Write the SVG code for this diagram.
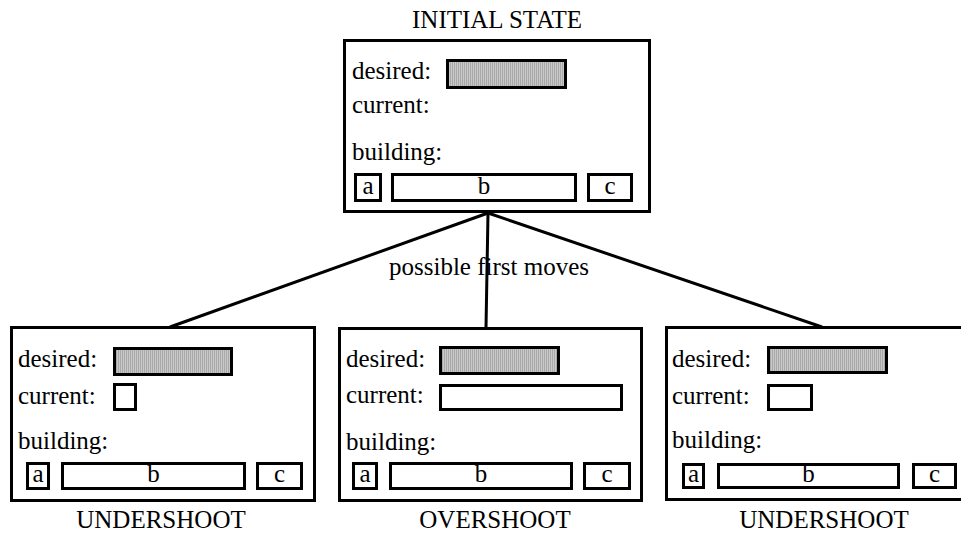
<svg xmlns="http://www.w3.org/2000/svg" width="961" height="538" viewBox="0 0 961 538">
<style>
.box{fill:#fff;stroke:#000;stroke-width:3}
.cell{fill:#fff;stroke:#000;stroke-width:3}
.want{fill:url(#hatch);stroke:#000;stroke-width:3}
.conn{stroke:#000;stroke-width:3;fill:none}
text{font-family:"Liberation Serif","Times New Roman",serif;font-size:25px;fill:#000}
.mid{text-anchor:middle}
</style>
<defs>
<pattern id="hatch" patternUnits="userSpaceOnUse" width="2" height="4">
<rect width="2" height="4" fill="#c9c9c9"/>
<rect width="1" height="4" fill="#a9a9a9"/>
</pattern>
</defs>
<g id="connectors">
<line class="conn" x1="488" y1="213" x2="170" y2="327"/>
<line class="conn" x1="488" y1="213" x2="822" y2="327"/>
<line class="conn" x1="488" y1="213" x2="486" y2="328"/>
<text class="mid" x="489" y="275">possible first moves</text>
</g>
<g id="initial">
<text class="mid" x="497" y="28">INITIAL STATE</text>
<rect class="box" x="344.5" y="40.5" width="305" height="171"/>
<text x="352" y="79">desired:</text>
<rect class="want" x="447.5" y="60.5" width="118" height="27"/>
<text x="352" y="113">current:</text>
<text x="352" y="160">building:</text>
<rect class="cell" x="355.5" y="174.5" width="25" height="26"/>
<rect class="cell" x="392.5" y="174.5" width="183" height="26"/>
<rect class="cell" x="588.5" y="174.5" width="43" height="26"/>
<text class="mid" x="368" y="194">a</text>
<text class="mid" x="484" y="194">b</text>
<text class="mid" x="610" y="194">c</text>
</g>
<g id="under1">
<rect class="box" x="11.5" y="327.5" width="303" height="173"/>
<text x="18" y="367">desired:</text>
<rect class="want" x="114.5" y="348.5" width="117" height="26"/>
<text x="18" y="404">current:</text>
<rect class="cell" x="114.5" y="384.5" width="21" height="25"/>
<text x="18" y="449">building:</text>
<rect class="cell" x="27.5" y="463.5" width="21" height="25"/>
<rect class="cell" x="62.5" y="463.5" width="182" height="25"/>
<rect class="cell" x="257.5" y="463.5" width="44" height="25"/>
<text class="mid" x="38" y="482">a</text>
<text class="mid" x="153.5" y="482">b</text>
<text class="mid" x="279.5" y="482">c</text>
<text class="mid" x="161" y="528">UNDERSHOOT</text>
</g>
<g id="over">
<rect class="box" x="339.5" y="328.5" width="302" height="172"/>
<text x="346" y="367">desired:</text>
<rect class="want" x="440.5" y="347.5" width="118" height="26"/>
<text x="346" y="403">current:</text>
<rect class="cell" x="440.5" y="385.5" width="181" height="24"/>
<text x="346" y="450">building:</text>
<rect class="cell" x="353.5" y="463.5" width="23" height="25"/>
<rect class="cell" x="390.5" y="463.5" width="181" height="25"/>
<rect class="cell" x="584.5" y="463.5" width="45" height="25"/>
<text class="mid" x="365" y="482">a</text>
<text class="mid" x="481" y="482">b</text>
<text class="mid" x="607" y="482">c</text>
<text class="mid" x="495" y="528">OVERSHOOT</text>
</g>
<g id="under2">
<rect class="box" x="666.5" y="327.5" width="320" height="172"/>
<text x="672" y="367">desired:</text>
<rect class="want" x="768.5" y="347.5" width="118" height="25"/>
<text x="672" y="404">current:</text>
<rect class="cell" x="768.5" y="385.5" width="43" height="24"/>
<text x="672" y="448">building:</text>
<rect class="cell" x="683.5" y="464.5" width="20" height="23"/>
<rect class="cell" x="718.5" y="464.5" width="180" height="23"/>
<rect class="cell" x="913.5" y="464.5" width="42" height="23"/>
<text class="mid" x="693.5" y="482">a</text>
<text class="mid" x="808.5" y="482">b</text>
<text class="mid" x="934.5" y="482">c</text>
<text class="mid" x="824" y="528">UNDERSHOOT</text>
</g>
</svg>
